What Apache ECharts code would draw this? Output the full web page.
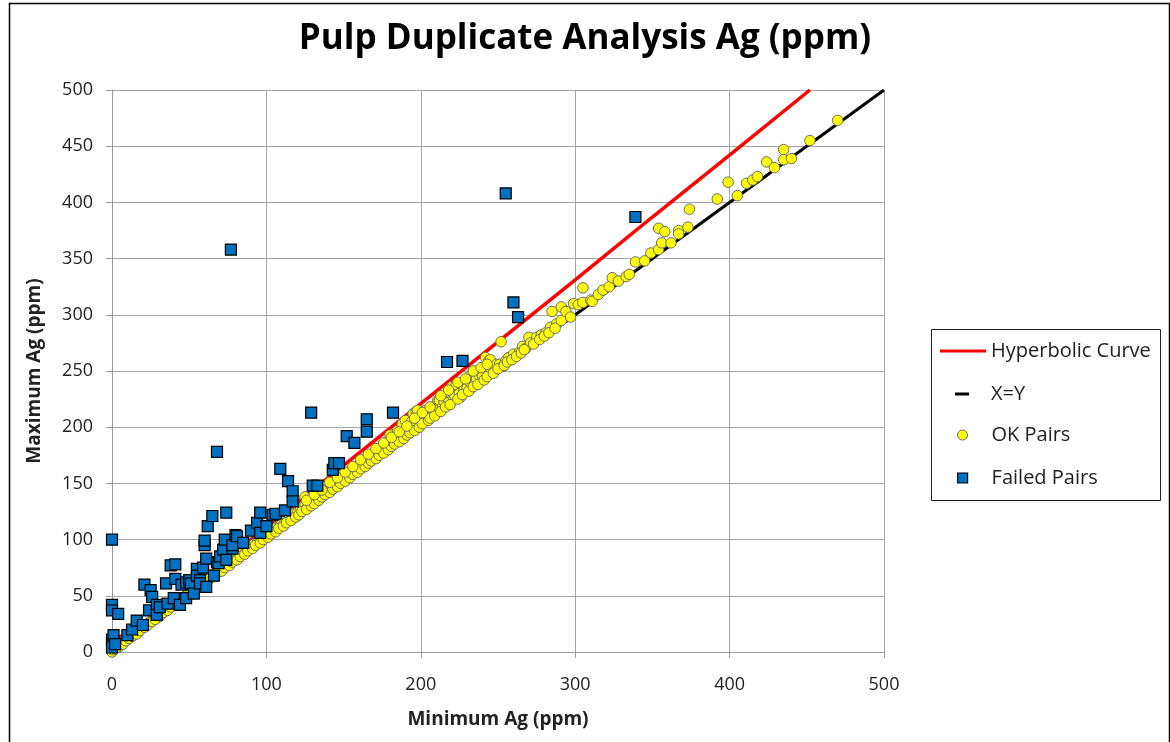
<!DOCTYPE html>
<html>
<head>
<meta charset="utf-8">
<script src="https://cdn.jsdelivr.net/npm/echarts@6/dist/echarts.min.js"></script>
<style>
html,body{margin:0;padding:0;background:#fff;}
#chart{width:1170px;height:742px;}
</style>
</head>
<body>
<div id="chart"></div>
<script>
const chartTitle = 'Pulp Duplicate Analysis Ag (ppm)';
const xAxisName = 'Minimum Ag (ppm)';
const yAxisName = 'Maximum Ag (ppm)';
const seriesNames = ['Hyperbolic Curve', 'X=Y', 'OK Pairs', 'Failed Pairs'];
const xTicks = [0, 100, 200, 300, 400, 500];
const yTicks = [0, 50, 100, 150, 200, 250, 300, 350, 400, 450, 500];

const hyperbolicCurve = [[0,10],[20,24],[50,56],[100,111],[150,166],[200,221],[250,276],[300,331],[350,387],[400,442],[452,500]];
const xyLine = [[0,0],[500,500]];

const okPairs = [
[0,0],[1,2],[2,3],[4,5],[5,5],[6,8],[8,9],[10,11],[12,13],[14,15],[15,17],[17,18],[19,21],[20,22],[22,23],[24,26],[25,27],[27,29],[29,30],[30,33],
[32,34],[34,36],[35,37],[37,39],[39,41],[40,43],[42,44],[44,46],[45,48],[47,49],[49,52],[50,53],[52,54],[54,57],[55,58],[57,60],[59,61],[60,63],[62,64],[64,67],
[65,68],[67,69],[69,72],[70,74],[72,75],[74,77],[75,79],[77,80],[79,82],[80,84],[82,85],[84,87],[85,89],[87,90],[89,92],[90,95],[92,96],[94,97],[95,99],[97,100],
[99,102],[100,105],[102,106],[104,107],[105,110],[107,111],[109,113],[110,115],[112,116],[114,118],[115,120],[117,121],[118,123],[120,124],[122,127],[124,129],[125,131],[125,138],[127,130],[128,131],
[130,134],[132,137],[133,136],[135,140],[137,139],[139,148],[140,144],[142,146],[144,149],[145,148],[147,150],[149,155],[150,153],[152,156],[153,160],[155,158],[157,162],[158,161],[160,166],[162,164],
[163,169],[165,172],[167,170],[169,176],[170,174],[172,175],[174,178],[175,180],[177,181],[178,185],[180,193],[182,186],[184,190],[185,197],[187,192],[188,203],[190,206],[192,198],[194,205],[195,200],
[195,212],[197,214],[198,215],[200,206],[202,208],[203,215],[204,206],[207,212],[208,212],[210,216],[211,224],[212,224],[214,218],[215,223],[218,222],[220,236],[221,227],[222,228],[223,238],[225,230],
[226,227],[228,233],[230,235],[232,246],[232,240],[235,240],[236,243],[238,248],[238,246],[240,245],[242,262],[244,259],[245,260],[245,250],[248,253],[249,256],[251,256],[252,276],[253,254],[255,259],
[257,262],[260,265],[264,267],[266,272],[268,270],[270,280],[271,275],[275,280],[278,282],[281,284],[284,289],[285,303],[288,292],[291,295],[291,307],[294,303],[297,298],[299,310],[302,309],[305,311],
[305,324],[310,313],[311,312],[315,318],[318,322],[322,325],[324,333],[328,330],[333,334],[335,336],[339,347],[345,348],[349,355],[354,358],[354,377],[356,364],[358,374],[362,364],[367,375],[367,372],
[373,378],[374,394],[392,403],[399,418],[405,406],[411,417],[415,420],[418,423],[424,436],[429,431],[435,447],[435,438],[440,439],[452,455],[470,473],
[3,4],[7,7],[9,10],[11,12],[13,14],[16,16],[18,19],[21,22],[23,24],[26,27],[28,29],[31,32],[33,35],[36,37],[38,40],[41,42],[43,45],[46,47],[48,50],[51,52],
[53,55],[56,57],[58,60],[61,62],[63,65],[66,67],[68,70],[71,72],[73,75],[76,77],[78,80],[81,82],[83,85],[86,87],[88,90],[91,92],[93,95],[96,97],[98,100],[101,102],
[103,105],[106,107],[108,110],[111,112],[113,115],[116,117],[119,120],[121,122],[123,125],[126,127],[129,130],[131,132],[134,135],[136,138],[138,140],[141,142],[143,145],[146,147],[148,150],[151,152],
[154,155],[156,158],[159,160],[161,163],[164,165],[166,168],[168,170],[171,172],[173,175],[176,177],[179,180],[181,183],[183,185],[186,187],[189,190],[191,193],[193,195],[196,197],[199,200],[201,203],
[205,206],[206,208],[209,210],[213,214],[216,218],[219,220],[224,225],[227,229],[231,232],[234,236],[237,238],[241,242],[243,245],[247,248],[250,252],[254,255],[256,258],[259,260],[262,263],[265,266],
[267,269],[273,274],[277,278],[280,281],[283,284],[287,288],
[126,135],[131,140],[136,144],[141,151],[146,155],[151,160],[156,165],[161,171],[166,176],[171,181],[176,186],[181,191],[186,196],[191,201],[196,208],[201,213],[206,218],[213,228],[218,233],[224,240],
[229,243],[234,250],[239,253],[243,256]
];

const failedPairs = [
[0,100],[0,42],[0,37],[4,34],[0,11],[1,15],[0,4],[2,7],[10,15],[13,20],[16,28],[20,24],[21,60],[25,55],[24,37],[26,49],[29,42],[29,33],[31,40],[35,61],
[36,43],[38,77],[41,78],[41,65],[40,48],[44,42],[45,60],[48,62],[48,48],[50,64],[51,61],[53,52],[55,74],[55,68],[57,64],[57,61],[59,75],[60,95],[60,99],[61,83],
[61,58],[62,112],[65,121],[66,68],[68,80],[68,178],[69,79],[70,85],[72,91],[73,100],[74,124],[74,82],[77,358],[78,92],[78,95],[80,104],[81,103],[85,97],[90,108],[94,115],
[96,124],[96,106],[100,112],[104,122],[106,123],[109,163],[112,126],[114,152],[117,143],[117,134],[129,213],[130,148],[133,148],[143,162],[144,168],[147,168],[152,192],[157,186],[165,207],[165,196],
[182,213],[217,258],[227,259],[255,408],[260,311],[263,298],[339,387]
];

const FONT = "'Open Sans', 'DejaVu Sans', sans-serif";
const chart = echarts.init(document.getElementById('chart'), null, {renderer: 'canvas'});

function legendAt(name, left, top, w, h, icon, pad, itemStyle) {
  return {
    data: [{name: name, icon: icon}],
    left: left, top: top, orient: 'vertical',
    itemWidth: w, itemHeight: h, padding: 0,
    selectedMode: false,
    itemStyle: itemStyle,
    textStyle: {fontFamily: FONT, fontSize: 20, color: '#222', padding: [0, 0, 0, pad]}
  };
}

const option = {
  animation: false,
  backgroundColor: '#fff',
  title: {
    text: chartTitle, left: 'center', top: 17,
    textStyle: {fontFamily: FONT, fontSize: 35, fontWeight: 'bold', color: '#000'}
  },
  grid: {left: 112, right: 286, top: 90, bottom: 90, containLabel: false},
  xAxis: {
    type: 'value', min: xTicks[0], max: xTicks[xTicks.length - 1], interval: xTicks[1] - xTicks[0],
    name: xAxisName, nameLocation: 'middle', nameGap: 58,
    nameTextStyle: {fontFamily: FONT, fontSize: 19, fontWeight: 'bold', color: '#222'},
    axisLine: {show: true, lineStyle: {color: '#9a9a9a', width: 1}},
    axisTick: {show: true, length: 6, lineStyle: {color: '#9a9a9a'}},
    axisLabel: {fontFamily: FONT, fontSize: 18, color: '#222', margin: 24},
    splitLine: {show: true, lineStyle: {color: '#a6a6a6', width: 1}}
  },
  yAxis: {
    type: 'value', min: yTicks[0], max: yTicks[yTicks.length - 1], interval: yTicks[1] - yTicks[0],
    name: yAxisName, nameLocation: 'middle', nameGap: 68,
    nameTextStyle: {fontFamily: FONT, fontSize: 19, fontWeight: 'bold', color: '#222'},
    axisLine: {show: true, lineStyle: {color: '#9a9a9a', width: 1}},
    axisTick: {show: true, length: 6, lineStyle: {color: '#9a9a9a'}},
    axisLabel: {fontFamily: FONT, fontSize: 18, color: '#222', margin: 19},
    splitLine: {show: true, lineStyle: {color: '#a6a6a6', width: 1}}
  },
  legend: [
    legendAt(seriesNames[0], 940, 341, 46, 3, 'rect', 0, {color: '#ff0000', borderWidth: 0}),
    legendAt(seriesNames[1], 955, 384, 14, 3, 'rect', 17, {color: '#000', borderWidth: 0}),
    legendAt(seriesNames[2], 957, 425, 10, 10, 'circle', 19, {borderWidth: 1}),
    legendAt(seriesNames[3], 957, 468, 10, 10, 'rect', 19, {borderWidth: 1.2})
  ],
  graphic: [
    {type: 'rect', left: 929, top: 327, shape: {width: 229, height: 171}, style: {fill: 'none', stroke: '#222', lineWidth: 1}, z: -1},
    {type: 'rect', left: 7, top: 1, shape: {width: 1160, height: 760}, style: {fill: 'none', stroke: '#000', lineWidth: 1.5}, z: -1}
  ],
  series: [
    {
      name: seriesNames[0], type: 'line', data: hyperbolicCurve, showSymbol: false, symbol: 'none',
      color: '#ff0000', lineStyle: {color: '#ff0000', width: 3.5}, smooth: false, z: 2
    },
    {
      name: seriesNames[1], type: 'line', data: xyLine, showSymbol: false, symbol: 'none',
      color: '#000000', lineStyle: {color: '#000000', width: 3}, z: 2
    },
    {
      name: seriesNames[2], type: 'scatter', data: okPairs, symbol: 'circle', symbolSize: 10.5,
      itemStyle: {color: '#ffff00', borderColor: '#6b6b6b', borderWidth: 1, opacity: 1}, z: 3
    },
    {
      name: seriesNames[3], type: 'scatter', data: failedPairs, symbol: 'rect', symbolSize: 11,
      itemStyle: {color: '#0070c0', borderColor: '#000000', borderWidth: 1.2, opacity: 1}, z: 4
    }
  ]
};
chart.setOption(option);
</script>
</body>
</html>
